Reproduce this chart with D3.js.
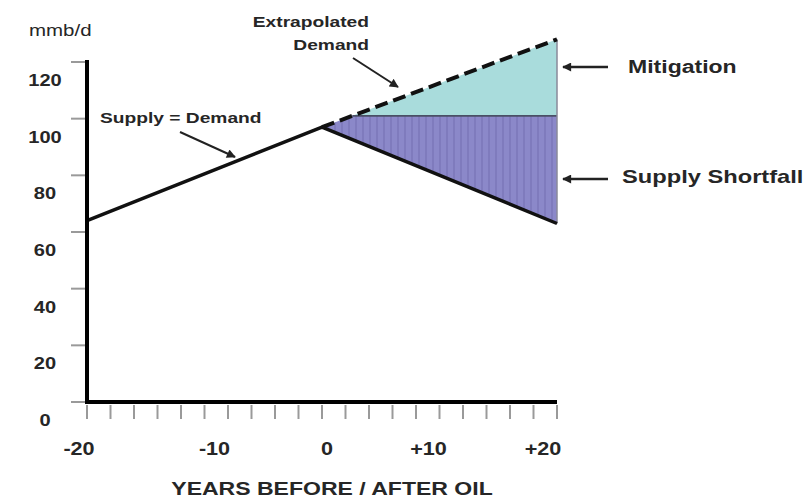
<!DOCTYPE html>
<html><head><meta charset="utf-8">
<script src="https://cdn.jsdelivr.net/npm/d3@7"></script>
<style>html,body{margin:0;padding:0;background:#fff;}svg{display:block;}</style>
</head><body>
<script>
// ---- data ----
const supplyYears = [-20, 0, 20];
const supplyValues = [64, 97, 63];
const demandYears = [0, 20];
const demandValues = [97, 128];
const mitigationLevel = 101;
const yTickValues = [0, 20, 40, 60, 80, 100, 120];
const xLabelValues = [-20, -10, 0, 10, 20];
const xLabelTexts = ["-20", "-10", "0", "+10", "+20"];
const xMinorTicks = d3.range(-20, 21, 2);
const yUnit = "mmb/d";
const xTitle = "YEARS BEFORE / AFTER OIL";

const W = 810, H = 498;
const svg = d3.select("body").append("svg").attr("width", W).attr("height", H);
const x = d3.scaleLinear().domain([-20, 20]).range([87, 557]);
const y = d3.scaleLinear().domain([0, 120]).range([402, 62]);
const SX = 1.28; // horizontal stretch of lettering
const FONT = "'Liberation Sans', Arial, sans-serif";
const TXT = "#262626";

function label(tx, ty, str, size, weight, anchor, sx) {
  return svg.append("text")
    .attr("transform", `translate(${tx},${ty}) scale(${sx || SX},1)`)
    .attr("text-anchor", anchor || "start")
    .attr("font-family", FONT).attr("font-size", size).attr("font-weight", weight || "bold")
    .attr("fill", TXT).text(str);
}

// stripe pattern for shortfall
const defs = svg.append("defs");
const pat = defs.append("pattern").attr("id", "stripes").attr("patternUnits", "userSpaceOnUse")
  .attr("width", 7).attr("height", 10);
pat.append("rect").attr("width", 7).attr("height", 10).attr("fill", "#8b88c9");
pat.append("rect").attr("x", 5).attr("width", 2).attr("height", 10).attr("fill", "#7f7bbd");
defs.append("marker").attr("id", "ah").attr("markerUnits", "userSpaceOnUse")
  .attr("viewBox", "0 0 10 10").attr("refX", 9).attr("refY", 5)
  .attr("markerWidth", 10).attr("markerHeight", 9).attr("orient", "auto")
  .append("path").attr("d", "M0,0 L10,5 L0,10 Z").attr("fill", "#222");

// intersection of demand line with mitigation level
const dSlope = (demandValues[1] - demandValues[0]) / (demandYears[1] - demandYears[0]);
const mStart = demandYears[0] + (mitigationLevel - demandValues[0]) / dSlope;
const peakYear = supplyYears[1], endYear = supplyYears[2];

// mitigation area
const mitigationPts = [[mStart, mitigationLevel], [demandYears[1], demandValues[1]], [endYear, mitigationLevel]];
const shortfallPts = [[peakYear, supplyValues[1]], [mStart, mitigationLevel], [endYear, mitigationLevel], [endYear, supplyValues[2]]];
const poly = d3.line().x(d => x(d[0])).y(d => y(d[1]));
svg.append("path").attr("d", poly(mitigationPts) + "Z").attr("fill", "#a9dcdc");
svg.append("path").attr("d", poly(shortfallPts) + "Z").attr("fill", "url(#stripes)");
// boundary line between the two areas
svg.append("path").attr("d", poly([[mStart, mitigationLevel], [endYear, mitigationLevel]]))
  .attr("stroke", "#4a4f66").attr("stroke-width", 1.8).attr("fill", "none");
// right edge
svg.append("path").attr("d", poly([[endYear, demandValues[1]], [endYear, supplyValues[2]]]))
  .attr("stroke", "#8a8a9a").attr("stroke-width", 1.5).attr("fill", "none");

// supply line
svg.append("path").datum(supplyYears.map((yr, i) => [yr, supplyValues[i]]))
  .attr("d", poly).attr("fill", "none").attr("stroke", "#111").attr("stroke-width", 3.5)
  .attr("stroke-linejoin", "round");
// demand dashed line
svg.append("path").datum(demandYears.map((yr, i) => [yr, demandValues[i]]))
  .attr("d", poly).attr("fill", "none").attr("stroke", "#111").attr("stroke-width", 4)
  .attr("stroke-dasharray", "13,6");

// y ticks
svg.selectAll(".yt").data(yTickValues).join("line")
  .attr("x1", 71).attr("x2", x(-20)).attr("y1", d => y(d)).attr("y2", d => y(d))
  .attr("stroke", "#9a9a9a").attr("stroke-width", 2);
// x minor ticks
svg.selectAll(".xt").data(xMinorTicks).join("line")
  .attr("x1", d => x(d)).attr("x2", d => x(d)).attr("y1", 405).attr("y2", 419)
  .attr("stroke", "#9a9a9a").attr("stroke-width", 2);

// axes
svg.append("line").attr("x1", x(-20)).attr("x2", x(-20)).attr("y1", y(120) - 2).attr("y2", y(0) + 2)
  .attr("stroke", "#000").attr("stroke-width", 4);
svg.append("line").attr("x1", x(-20) - 2).attr("x2", x(20)).attr("y1", y(0)).attr("y2", y(0))
  .attr("stroke", "#000").attr("stroke-width", 4);

// y tick labels
yTickValues.forEach(v => label(45, y(v) + 24, String(v), 17, "bold", "middle", 1.18));
// x tick labels (small nudges to match the original lettering)
const xNudge = [-8, 10, 5, -11, -14];
xLabelValues.forEach((v, i) => label(x(v) + xNudge[i], 455, xLabelTexts[i], 18, "bold", "middle", 1.2));

// unit + title
label(29, 36, yUnit, 16, "normal", "start");
label(332, 495, xTitle, 18, "bold", "middle");

// annotations
label(369, 27, "Extrapolated", 15, "bold", "end");
label(369, 50, "Demand", 15, "bold", "end");
label(100, 123, "Supply = Demand", 15, "bold", "start");
label(628, 73, "Mitigation", 18, "bold", "start");
label(622, 183, "Supply Shortfall", 18.5, "bold", "start");

function arrow(x1, y1, x2, y2, w) {
  svg.append("line").attr("x1", x1).attr("y1", y1).attr("x2", x2).attr("y2", y2)
    .attr("stroke", "#222").attr("stroke-width", w).attr("marker-end", "url(#ah)");
}
arrow(353, 58, 398, 87, 2);
arrow(180, 132, 235, 157, 2);
arrow(608, 67, 563, 67, 2.5);
arrow(608, 179, 563, 179, 2.5);
</script>
</body></html>
